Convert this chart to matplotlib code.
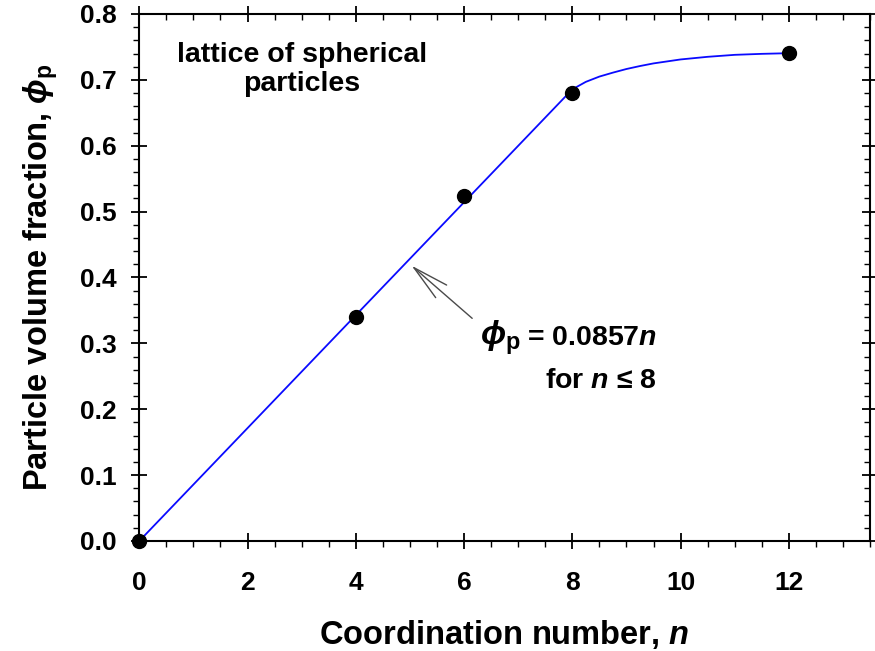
import matplotlib
matplotlib.use("Agg")
import matplotlib.pyplot as plt
import matplotlib.lines as mlines
from matplotlib.ticker import MultipleLocator

plt.rcParams['font.family'] = ['Liberation Sans', 'DejaVu Sans']
plt.rcParams['font.weight'] = 'bold'
plt.rcParams['mathtext.fontset'] = 'custom'
plt.rcParams['mathtext.rm'] = 'Liberation Sans:bold'
plt.rcParams['mathtext.it'] = 'Liberation Sans:bold:italic'
plt.rcParams['mathtext.bf'] = 'Liberation Sans:bold'
plt.rcParams['mathtext.fallback'] = 'stixsans'

# data points (coordination number, volume fraction)
n_points = [0, 4, 6, 8, 12]
phi_points = [0.0, 0.3401, 0.5236, 0.6802, 0.7405]

# fitted curve: linear part (phi = 0.0857 n for n <= 8)
n_line = [0, 8]
phi_line = [0.0, 0.6856]
# curved part, n > 8
n_curve = [8.0, 8.25, 8.5, 8.75, 9.0, 9.25, 9.5, 9.75, 10.0, 10.5, 11.0, 11.5, 12.0]
phi_curve = [0.6856, 0.697, 0.705, 0.711, 0.7165, 0.721, 0.725, 0.728, 0.731,
             0.735, 0.738, 0.7395, 0.7405]

x_ticks = [0, 2, 4, 6, 8, 10, 12]
y_ticks = [0.0, 0.1, 0.2, 0.3, 0.4, 0.5, 0.6, 0.7, 0.8]

fig = plt.figure(figsize=(8.75, 6.51), dpi=100)
ax = fig.add_axes([0.1592, 0.169, 0.9943 - 0.1592, 0.9785 - 0.169])

ax.plot(n_line, phi_line, color='#0a0aff', lw=1.3, zorder=2)
ax.plot(n_curve, phi_curve, color='#0a0aff', lw=1.3, zorder=2)
ax.plot(n_points, phi_points, 'o', color='black', ms=10, zorder=3, clip_on=False)

ax.set_xlim(0, 13.5)
ax.set_ylim(0, 0.8)
ax.set_xticks(x_ticks)
ax.set_yticks(y_ticks)
ax.set_xticklabels([str(v) for v in x_ticks])
ax.set_yticklabels([f"{v:.1f}" for v in y_ticks])
ax.xaxis.set_minor_locator(MultipleLocator(0.5))
ax.yaxis.set_minor_locator(MultipleLocator(0.02))

for s in ax.spines.values():
    s.set_linewidth(1.5)

ax.tick_params(which='major', direction='inout', length=11, width=1.3,
               top=True, right=True, labelsize=19)
ax.tick_params(axis='x', which='major', pad=16)
ax.tick_params(axis='y', which='major', pad=11)
ax.tick_params(which='minor', direction='out', length=4, width=1.0,
               bottom=True, left=True, top=True, right=True)
# top/right minor ticks point the same way as bottom/left (down / left)
for t in ax.xaxis.get_minor_ticks():
    t.tick2line.set_marker(mlines.TICKDOWN)
for t in ax.yaxis.get_minor_ticks():
    t.tick2line.set_marker(mlines.TICKLEFT)

for lab in ax.get_xticklabels() + ax.get_yticklabels():
    lab.set_fontweight('bold')

ax.set_xlabel(r"Coordination number, $n$", fontsize=23.5, fontweight='bold', labelpad=17)
ax.set_ylabel(r"Particle volume fraction, $\phi_\mathrm{p}$", fontsize=23.5,
              fontweight='bold', labelpad=14)

ax.text(3.0, 0.7165, "lattice of spherical\nparticles", ha='center', va='center',
        fontsize=20.5, fontweight='bold', linespacing=1.15)

ax.annotate("", xy=(5.03, 0.418), xytext=(6.15, 0.338),
            arrowprops=dict(arrowstyle='->,head_length=2.6,head_width=0.6',
                            color='#4a4a4a', lw=1.0, shrinkA=0, shrinkB=0))

ax.text(6.30, 0.2975, r"$\phi_\mathrm{p}$", fontsize=24, ha='left', va='baseline')
ax.text(9.56, 0.2975, r"= 0.0857$n$", fontsize=20.5, ha='right', va='baseline',
        fontweight='bold')
ax.text(9.56, 0.232, r"for $n$ ≤ 8", fontsize=20.5, ha='right', va='baseline',
        fontweight='bold')

fig.savefig("out.png", dpi=100)
